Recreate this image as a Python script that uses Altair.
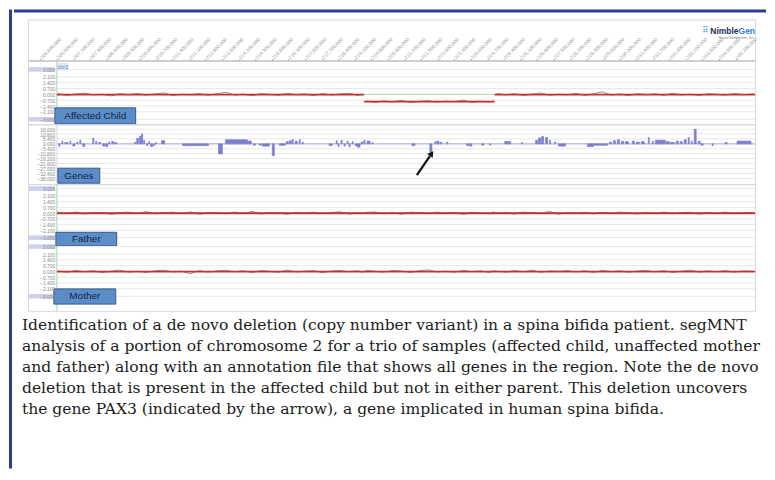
import altair as alt
import pandas as pd

# ------------------------------------------------------------------ data
VIEW_START, VIEW_END = 205.277, 236.018      # visible genomic window (Mb)
TRACK_START, TRACK_END = 206.5, 236.018      # region covered by probes (Mb)
LABEL_PAD_START, LABEL_PAD_END = 205.30, 206.42

TICKS_MB = [205.8, 206.5, 207.2, 207.9, 208.6, 209.3, 210.0, 210.7, 211.4, 212.1,
            212.8, 213.5, 214.2, 214.9, 215.6, 216.3, 217.0, 217.7, 218.4, 219.1,
            219.8, 220.5, 221.2, 221.9, 222.6, 223.3, 224.0, 224.7, 225.4, 226.1,
            226.8, 227.5, 228.2, 228.9, 229.6, 230.3, 231.0, 231.7, 232.4, 233.1,
            233.8, 234.5, 235.2]

RATIO_TICKS = [3.0, 2.1, 1.4, 0.7, 0.0, -0.7, -1.4, -2.1, -3.0]
GENE_TICKS = [16.0, 10.8, 5.4, 0.0, -5.4, -10.8, -16.2, -21.6, -27.0, -32.4, -38.0]

# segMNT segments
CHILD_SEG_START = [206.5, 219.49, 225.01]
CHILD_SEG_END = [219.49, 225.01, 236.018]
CHILD_SEG_VALUE = [-0.03, -0.86, -0.03]
FATHER_SEG_START, FATHER_SEG_END, FATHER_SEG_VALUE = [206.5], [236.018], [-0.02]
MOTHER_SEG_START, MOTHER_SEG_END, MOTHER_SEG_VALUE = [206.5], [236.018], [-0.02]

# probe log2 ratios (approximate)
PROBE_POS = [206.55, 206.92, 207.31, 207.66, 208.05, 208.41, 208.80, 209.14, 209.52, 209.91,
             210.27, 210.66, 211.02, 211.40, 211.77, 212.13, 212.52, 212.88, 213.26, 213.63,
             214.01, 214.37, 214.76, 215.12, 215.50, 215.87, 216.24, 216.61, 216.99, 217.36,
             217.72, 218.11, 218.47, 218.85, 219.22, 219.44, 219.58, 219.95, 220.32, 220.70,
             221.06, 221.45, 221.81, 222.19, 222.56, 222.93, 223.30, 223.68, 224.04, 224.42,
             224.79, 224.97, 225.10, 225.48, 225.84, 226.22, 226.59, 226.96, 227.33, 227.71,
             228.07, 228.45, 228.82, 229.19, 229.56, 229.94, 230.30, 230.68, 231.05, 231.42,
             231.79, 232.17, 232.53, 232.91, 233.28, 233.65, 234.03, 234.40, 234.77, 235.15,
             235.52, 235.95]
CHILD_PROBES = [0.08, -0.12, 0.05, 0.15, -0.06, 0.02, -0.18, 0.10, -0.04, 0.12,
                -0.09, 0.06, 0.18, -0.14, 0.03, -0.05, 0.11, -0.10, 0.07, 0.24,
                -0.08, 0.04, -0.16, 0.09, 0.01, -0.11, 0.13, -0.03, 0.06, -0.15,
                0.10, -0.07, 0.05, 0.14, -0.12, 0.02,
                -0.80, -0.95, -0.78, -0.90, -0.72, -0.98, -0.84, -0.76, -0.93, -0.81,
                -0.88, -0.70, -0.96, -0.83, -0.91, -0.79,
                0.12, -0.06, 0.09, -0.14, 0.04, 0.17, -0.10, 0.02, -0.05, 0.13,
                -0.12, 0.07, 0.30, -0.08, 0.05, -0.15, 0.10, -0.03, 0.08, -0.11,
                0.14, -0.06, 0.03, -0.13, 0.09, 0.01, -0.09, 0.11, -0.04, 0.06]
FATHER_PROBES = [0.10, -0.08, 0.14, -0.12, 0.05, 0.09, -0.15, 0.03, 0.12, -0.06,
                 0.18, -0.10, 0.04, 0.11, -0.07, 0.15, -0.13, 0.02, 0.08, -0.09,
                 0.13, -0.05, 0.20, -0.11, 0.06, 0.01, -0.14, 0.10, -0.03, 0.12,
                 -0.08, 0.07, 0.16, -0.12, 0.04, -0.06, 0.09, 0.14, -0.10, 0.03,
                 -0.13, 0.11, 0.05, -0.07, 0.13, -0.04, 0.08, -0.16, 0.10, 0.02,
                 -0.09, 0.15, -0.05, 0.07, -0.12, 0.12, 0.03, -0.08, 0.22, -0.14,
                 0.06, -0.02, 0.11, -0.10, 0.09, -0.06, 0.14, 0.01, -0.11, 0.08,
                 -0.04, 0.13, -0.09, 0.05, 0.10, -0.13, 0.07, -0.05, 0.12, -0.07,
                 0.04, 0.09]
MOTHER_PROBES = [0.07, -0.11, 0.13, -0.05, 0.10, -0.14, 0.04, 0.16, -0.08, 0.02,
                 -0.12, 0.09, 0.15, -0.06, 0.03, -0.28, 0.11, -0.09, 0.06, 0.13,
                 -0.04, 0.08, -0.13, 0.12, 0.01, -0.10, 0.17, -0.07, 0.05, 0.10,
                 -0.15, 0.06, 0.12, -0.03, 0.09, -0.11, 0.14, 0.02, -0.08, 0.11,
                 0.05, -0.12, 0.08, 0.19, -0.06, 0.03, -0.10, 0.13, -0.02, 0.07,
                 -0.14, 0.10, 0.04, -0.09, 0.12, -0.05, 0.15, -0.11, 0.06, 0.01,
                 0.11, -0.07, 0.09, -0.13, 0.14, -0.03, 0.08, -0.10, 0.05, 0.12,
                 -0.06, 0.10, -0.12, 0.03, 0.16, -0.08, 0.07, -0.04, 0.11, -0.09,
                 0.06, 0.02]

# gene annotation track
GENE_START = [206.584, 206.711, 206.837, 207.048, 207.175, 207.343, 207.470, 207.596, 208.018, 208.145,
              208.271, 208.440, 208.566, 208.693, 208.819, 208.946, 209.789, 209.874, 210.000, 210.084,
              210.169, 210.295, 210.380, 210.464, 210.590, 210.675, 210.928, 211.813, 213.331, 213.627,
              214.554, 214.807, 215.060, 215.187, 215.609, 215.904, 216.199, 216.325, 216.452, 216.578,
              216.747, 216.874, 218.012, 218.307, 218.392, 218.518, 218.645, 218.771, 218.856, 218.982,
              219.109, 219.193, 219.362, 219.488, 219.615, 219.825, 221.512, 222.271, 222.482, 222.566,
              222.693, 222.988, 223.831, 223.958, 224.464, 224.801, 225.434, 226.151, 226.741, 226.868,
              226.994, 227.163, 227.331, 227.542, 227.711, 228.934, 229.187, 229.862, 230.030, 230.199,
              230.368, 230.536, 230.831, 231.000, 231.211, 231.506, 231.675, 231.801, 232.265, 232.434,
              232.687, 232.856, 233.024, 233.193, 233.319, 233.446, 233.615, 233.741, 234.205, 234.753,
              235.259]
GENE_END = [206.627, 206.753, 206.964, 207.090, 207.259, 207.386, 207.512, 207.681, 208.060, 208.187,
            208.355, 208.524, 208.651, 208.735, 208.904, 209.030, 209.831, 209.958, 210.084, 210.127,
            210.211, 210.337, 210.422, 210.548, 210.633, 210.717, 211.054, 212.910, 213.500, 214.554,
            214.723, 214.892, 215.145, 215.482, 215.693, 216.157, 216.283, 216.410, 216.494, 216.663,
            216.789, 216.916, 218.139, 218.350, 218.434, 218.560, 218.687, 218.813, 218.898, 219.024,
            219.193, 219.319, 219.446, 219.530, 219.741, 219.868, 221.639, 222.356, 222.524, 222.651,
            222.777, 223.030, 223.916, 224.042, 224.548, 224.844, 225.687, 226.193, 226.825, 226.952,
            227.078, 227.247, 227.374, 227.585, 228.006, 229.187, 229.777, 229.946, 230.115, 230.283,
            230.452, 230.663, 230.916, 231.127, 231.338, 231.548, 231.717, 232.223, 232.392, 232.603,
            232.771, 232.940, 233.109, 233.235, 233.361, 233.530, 233.699, 233.825, 234.247, 234.838,
            235.849]
GENE_VALUE = [-3, 3, 1.5, 3, -2.5, 2, 4, -3, 6.5, 3,
              1.5, -2.5, -3, 2, 2.5, 1.5, 2, 6, 8.5, 11,
              4, -2, 2.5, -3, -2, 1.5, 3.5, -2, -11, 4.5,
              3, -1.5, -1.5, -2.5, -13, -1.5, 2.5, 3.5, 5, 3,
              4.5, 2, -2, 3.5, -3, 4, -2.5, 3, -3.5, 2.5,
              -2, -3.5, 2, 4, 3, 1.5, -2, -9.5, 2.5, 3,
              1.5, 2, -2, -2.5, -1.5, -1.5, 2.5, 1.5, 4, 6.5,
              8, 7, 4, 2, -2.5, -3, -1.5, 2, 3.5, 4.5,
              3, 2.5, 3, 2, 2.5, 7, 3, 4, 2.5, 1.5,
              3, 2.5, 4.5, 7, 3, 16, 3, -1.5, -2, 1.5,
              3]

# arrow pointing at PAX3 (tail -> head, genes-track units)
ARROW_X = [221.72, 222.27]
ARROW_Y = [-34.4, -13.6]
ARROW_HEAD = (222.32, -11.6)

TRACK_NAMES = ["Affected Child", "Genes", "Father", "Mother"]
# label boxes: x0, x1 (Mb), y0, y1 (track units), text centre x, y
BOX_CHILD = (206.416, 209.831, -1.62, -3.54, 208.124, -2.58)
BOX_GENES = (206.542, 208.313, -26.7, -43.2, 207.428, -34.9)
BOX_FATHER = (206.458, 209.030, -2.35, -4.00, 207.744, -3.18)
BOX_MOTHER = (206.373, 208.988, -2.11, -3.95, 207.681, -3.03)
CHR_TAG = (206.542, 206.964, 3.72, 2.94, 206.753, 3.32, "chr2")

CAPTION = [
    "Identification of a de novo deletion (copy number variant) in a spina bifida patient. segMNT",
    "analysis of a portion of chromosome 2 for a trio of samples (affected child, unaffected mother",
    "and father) along with an annotation file that shows all genes in the region. Note the de novo",
    "deletion that is present in the affected child but not in either parent. This deletion uncovers",
    "the gene PAX3 (indicated by the arrow), a gene implicated in human spina bifida.",
]
CAPTION_LINE = [0, 1, 2, 3, 4]

assert len(PROBE_POS) == len(CHILD_PROBES) == len(FATHER_PROBES) == len(MOTHER_PROBES)
assert len(GENE_START) == len(GENE_END) == len(GENE_VALUE)

# ------------------------------------------------------------------ style
PANEL_W = 729
FRAME_BLUE = "#2c3c8e"
LABEL_FONT = "Liberation Sans"
AXIS_GREEN = "#b3dcab"


def xq(field, axis=None):
    return alt.X(field, type="quantitative",
                 scale=alt.Scale(domain=[VIEW_START, VIEW_END], nice=False, zero=False),
                 axis=axis)


def y_axis(values):
    return alt.Axis(values=values, format=".3f", title=None, domain=False, ticks=False,
                    grid=False, labelFontSize=5, labelColor="#8a8a8a", labelFont=LABEL_FONT,
                    labelPadding=2, offset=-29, zindex=1, labelOverlap=False)


def make_y(ydom, values):
    ax = y_axis(values)

    def Y(field):
        return alt.Y(field, type="quantitative",
                     scale=alt.Scale(domain=ydom, nice=False, zero=False), axis=ax)
    return Y


def label_layers(Y, box, name):
    x0, x1, y0, y1, tx, ty = box
    bdf = pd.DataFrame({"x0": [x0], "x1": [x1], "y0": [y0], "y1": [y1], "tx": [tx], "ty": [ty], "t": [name]})
    rect = alt.Chart(bdf).mark_rect(fill="#5b8ec9", stroke="#37598c", strokeWidth=1).encode(
        x=xq("x0"), x2="x1", y=Y("y0"), y2="y1")
    txt = alt.Chart(bdf).mark_text(font=LABEL_FONT, fontSize=10, color="#15223d",
                                   baseline="middle", align="center").encode(
        x=xq("tx"), y=Y("ty"), text="t")
    return [rect, txt]


def ratio_panel(seg_s, seg_e, seg_v, probes, box, name, ydom, height, extra=None):
    Y = make_y(ydom, RATIO_TICKS)
    grid = alt.Chart(pd.DataFrame({"v": RATIO_TICKS, "x0": TRACK_START, "x1": TRACK_END})).mark_rule(
        color="#e8e8e8", strokeWidth=1).encode(x=xq("x0"), x2="x1", y=Y("v"))
    hl = alt.Chart(pd.DataFrame({"v": [RATIO_TICKS[0], RATIO_TICKS[-1]],
                                 "x0": LABEL_PAD_START, "x1": LABEL_PAD_END})).mark_rule(
        color="#cfcfee", strokeWidth=4.5).encode(x=xq("x0"), x2="x1", y=Y("v"))
    zero = alt.Chart(pd.DataFrame({"v": [0.0], "x0": [TRACK_START], "x1": [TRACK_END]})).mark_rule(
        color=AXIS_GREEN, strokeWidth=1).encode(x=xq("x0"), x2="x1", y=Y("v"))
    axl = alt.Chart(pd.DataFrame({"x": [TRACK_START], "y0": [ydom[1]], "y1": [ydom[0]]})).mark_rule(
        color=AXIS_GREEN, strokeWidth=1.2).encode(x=xq("x"), y=Y("y0"), y2="y1")
    seg_id = []
    for p in PROBE_POS:
        sid = 0
        for i, (s, e) in enumerate(zip(seg_s, seg_e)):
            if s <= p < e:
                sid = i
        seg_id.append(sid)
    pdf = pd.DataFrame({"pos": PROBE_POS, "v": probes, "seg": seg_id})
    noise = alt.Chart(pdf).mark_line(color="#8f8f8f", strokeWidth=1).encode(
        x=xq("pos"), y=Y("v"), detail="seg:N")
    sdf = pd.DataFrame({"s": seg_s, "e": seg_e, "v": seg_v})
    segs = alt.Chart(sdf).mark_rule(color="#c53030", strokeWidth=1.8).encode(
        x=xq("s"), x2="e", y=Y("v"))
    layers = [grid, hl, zero, axl, noise, segs] + label_layers(Y, box, name)
    if extra is not None:
        layers += extra(Y)
    return alt.layer(*layers).properties(width=PANEL_W, height=height)


def chr_tag(Y):
    x0, x1, y0, y1, tx, ty, t = CHR_TAG
    df = pd.DataFrame({"x0": [x0], "x1": [x1], "y0": [y0], "y1": [y1], "tx": [tx], "ty": [ty], "t": [t]})
    r = alt.Chart(df).mark_rect(fill="#dbe9f6", stroke="#bcd3ea", strokeWidth=0.5).encode(
        x=xq("x0"), x2="x1", y=Y("y0"), y2="y1")
    tx_ = alt.Chart(df).mark_text(font=LABEL_FONT, fontSize=5.5, color="#5d82b8").encode(
        x=xq("tx"), y=Y("ty"), text="t")
    return [r, tx_]


# ------------------------------------------------------------------ header
hdr_axis = alt.Axis(orient="top", offset=-41, values=TICKS_MB, title=None,
                    labelExpr="format(datum.value * 1000000, ',.0f')",
                    labelAngle=-45, labelAlign="left", labelBaseline="middle",
                    labelFontSize=5, labelColor="#9a9a9a", labelFont=LABEL_FONT, labelPadding=1,
                    tickSize=2, tickColor="#a0a0a0", domainColor="#a0a0a0", grid=False,
                    labelOverlap=False)
HY = alt.Scale(domain=[0, 1], nice=False, zero=False)
logo_nimble = alt.Chart(pd.DataFrame({"x": [235.322], "y": [0.73], "t": ["Nimble"]})).mark_text(
    font=LABEL_FONT, fontSize=8.5, fontWeight="bold", color="#1e2b5c", align="right",
    baseline="middle").encode(x=xq("x", hdr_axis), y=alt.Y("y:Q", scale=HY, axis=None), text="t")
logo_gen = alt.Chart(pd.DataFrame({"x": [235.322], "y": [0.73], "t": ["Gen"]})).mark_text(
    font=LABEL_FONT, fontSize=8.5, fontWeight="bold", color="#2f80d8", align="left",
    baseline="middle").encode(x=xq("x", hdr_axis), y=alt.Y("y:Q", scale=HY, axis=None), text="t")
logo_dots = alt.Chart(pd.DataFrame({"x": [233.93], "y": [0.75], "t": ["⠿"]})).mark_text(
    font="DejaVu Sans", fontSize=9, color="#3f86d8", baseline="middle").encode(
    x=xq("x", hdr_axis), y=alt.Y("y:Q", scale=HY, axis=None), text="t")
logo_sub = alt.Chart(pd.DataFrame({"x": [236.0], "y": [0.56], "t": ["Roche NimbleGen, Inc."]})).mark_text(
    font=LABEL_FONT, fontSize=3.5, color="#7a7a7a", align="right", baseline="middle").encode(
    x=xq("x", hdr_axis), y=alt.Y("y:Q", scale=HY, axis=None), text="t")
header = alt.layer(logo_nimble, logo_gen, logo_dots, logo_sub).properties(width=PANEL_W, height=41)

# ------------------------------------------------------------------ panels
p_child = ratio_panel(CHILD_SEG_START, CHILD_SEG_END, CHILD_SEG_VALUE, CHILD_PROBES, BOX_CHILD,
                      TRACK_NAMES[0], [-3.6, 4.08], 64, extra=chr_tag)
p_father = ratio_panel(FATHER_SEG_START, FATHER_SEG_END, FATHER_SEG_VALUE, FATHER_PROBES, BOX_FATHER,
                       TRACK_NAMES[2], [-4.024, 3.537], 62)
p_mother = ratio_panel(MOTHER_SEG_START, MOTHER_SEG_END, MOTHER_SEG_VALUE, MOTHER_PROBES, BOX_MOTHER,
                       TRACK_NAMES[3], [-4.759, 3.072], 65)

GY = make_y([-44.24, 21.48], GENE_TICKS)
g_grid = alt.Chart(pd.DataFrame({"v": GENE_TICKS, "x0": TRACK_START, "x1": TRACK_END})).mark_rule(
    color="#e8e8e8", strokeWidth=1).encode(x=xq("x0"), x2="x1", y=GY("v"))
g_axl = alt.Chart(pd.DataFrame({"x": [TRACK_START], "y0": [21.48], "y1": [-44.24]})).mark_rule(
    color="#d6d6e6", strokeWidth=1).encode(x=xq("x"), y=GY("y0"), y2="y1")
g_zero = alt.Chart(pd.DataFrame({"v": [0.0], "x0": [TRACK_START], "x1": [TRACK_END]})).mark_rule(
    color="#a9a9e3", strokeWidth=1).encode(x=xq("x0"), x2="x1", y=GY("v"))
gdf = pd.DataFrame({"s": GENE_START, "e": GENE_END, "v": GENE_VALUE, "b": 0.0})
g_bars = alt.Chart(gdf).mark_rect(color="#7e7ecb", stroke="#7e7ecb", strokeWidth=0.7).encode(
    x=xq("s"), x2="e", y=GY("b"), y2="v")
adf = pd.DataFrame({"x0": [ARROW_X[0]], "x1": [ARROW_X[1]], "y0": [ARROW_Y[0]], "y1": [ARROW_Y[1]]})
g_arrow = alt.Chart(adf).mark_rule(color="#111111", strokeWidth=2.2).encode(
    x=xq("x0"), x2="x1", y=GY("y0"), y2="y1")
g_head = alt.Chart(pd.DataFrame({"x": [ARROW_HEAD[0]], "y": [ARROW_HEAD[1]]})).mark_point(
    shape="triangle", filled=True, size=45, angle=35, color="#111111", opacity=1).encode(
    x=xq("x"), y=GY("y"))
p_genes = alt.layer(g_grid, g_axl, g_zero, g_bars, *label_layers(GY, BOX_GENES, TRACK_NAMES[1]),
                    g_arrow, g_head).properties(width=PANEL_W, height=60)

# ------------------------------------------------------------------ caption
cap_df = pd.DataFrame({"i": CAPTION_LINE, "t": CAPTION, "x": VIEW_START})
caption = alt.Chart(cap_df).mark_text(
    font="DejaVu Serif", fontSize=15.6, color="#1c1c1c", align="left", baseline="middle", dx=-6
).encode(
    x=xq("x"),
    y=alt.Y("i:Q", scale=alt.Scale(domain=[4.571, -0.667], nice=False, zero=False), axis=None),
    text="t",
).properties(width=PANEL_W, height=110, view=alt.ViewBackground(stroke="transparent"))

inner = alt.vconcat(header, p_child, p_genes, p_father, p_mother, caption, spacing=0, bounds="flush")


# ------------------------------------------------------------------ frame
def filler(w, h, fill):
    base = alt.Chart(pd.DataFrame({"a": [0.0], "b": [1.0]})).mark_rect(color=fill, strokeWidth=0).encode(
        x=alt.X("a:Q", axis=None, scale=alt.Scale(domain=[0, 1], nice=False, zero=False)), x2="b",
        y=alt.Y("a:Q", axis=None, scale=alt.Scale(domain=[0, 1], nice=False, zero=False)), y2="b")
    return base.properties(width=w, height=h, view=alt.ViewBackground(stroke="transparent"))


left_bar = filler(3, 460, FRAME_BLUE)
top_bar = filler(754, 3, FRAME_BLUE)
spacer = filler(6, 1, "white")

middle = alt.vconcat(top_bar, alt.hconcat(spacer, inner, spacing=0), spacing=5)
chart = alt.hconcat(left_bar, middle, spacing=0).properties(
    padding=0, background="white"
).configure_view(stroke="#d9d9d9", strokeWidth=1)

chart.save("out.html", embed_options={"renderer": "svg", "actions": False})
